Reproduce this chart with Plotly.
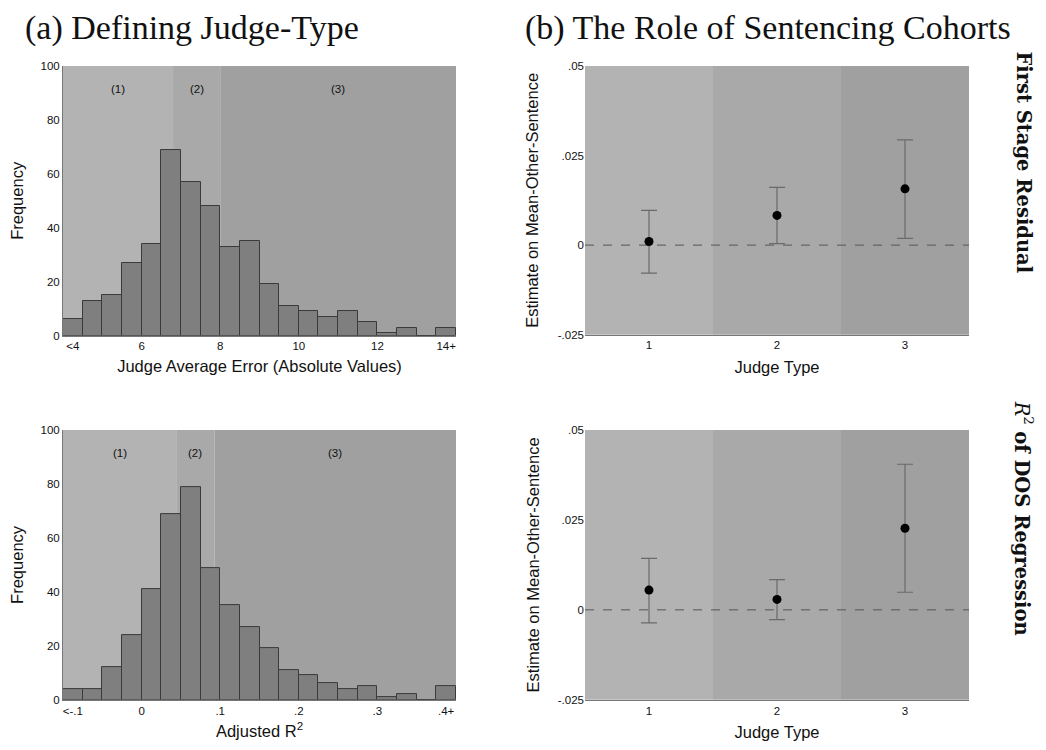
import numpy as np
import plotly.graph_objects as go

# ---- histogram data: judge average error (bins of 0.5 starting at 4) ----
err_bin_start = 4.0
err_bin_width = 0.5
err_counts = [6, 13, 15, 27, 34, 69, 57, 48, 33, 35, 19, 11, 9, 7, 9, 5, 1, 3, 0, 3]
err_tickvals = [4.25, 6, 8, 10, 12, 13.75]
err_ticktext = ["<4", "6", "8", "10", "12", "14+"]
err_cuts = [6.8, 8.0]          # judge-type boundaries

# ---- histogram data: adjusted R^2 (bins of 0.025 starting at -0.1) ----
r2_bin_start = -0.1
r2_bin_width = 0.025
r2_counts = [4, 4, 12, 24, 41, 69, 79, 49, 35, 27, 19, 11, 9, 6, 4, 5, 1, 2, 0, 5]
r2_tickvals = [-0.0875, 0, 0.1, 0.2, 0.3, 0.3875]
r2_ticktext = ["<-.1", "0", ".1", ".2", ".3", ".4+"]
r2_cuts = [0.044, 0.093]

# ---- coefficient estimates by judge type ----
judge_types = [1, 2, 3]
fs_est = [0.0010, 0.0083, 0.0157]
fs_hi = [0.0097, 0.0161, 0.0294]
fs_lo = [-0.0078, 0.0004, 0.0019]
r2_est = [0.0055, 0.0029, 0.0227]
r2_hi = [0.0143, 0.0084, 0.0405]
r2_lo = [-0.0036, -0.0027, 0.0049]

W, H = 1046, 750
REGION_COLORS = ["#b3b3b3", "#a9a9a9", "#a0a0a0"]
BAR_FILL = "#7f7f7f"
BAR_LINE = "#3a3a3a"
SANS = "Liberation Sans, Arial, sans-serif"
SERIF = "Liberation Serif, serif"
TICK_FONT = dict(family=SANS, size=11.5, color="#111")
TITLE_FONT = dict(family=SANS, size=16.5, color="#111")


def px_dom_x(a, b):
    return [a / W, b / W]


def px_dom_y(top, bottom):
    return [1 - bottom / H, 1 - top / H]


fig = go.Figure()
shapes = []
annotations = []


def add_hist(idx, counts, start, width, cuts, tickvals, ticktext, xtitle, xdom, ydom, lab_y):
    counts = np.array(counts)
    n = len(counts)
    edges = start + width * np.arange(n + 1)
    centers = (edges[:-1] + edges[1:]) / 2
    xa = "x" if idx == 1 else f"x{idx}"
    ya = "y" if idx == 1 else f"y{idx}"
    lo, hi = edges[0], edges[-1]
    fig.add_trace(go.Bar(
        x=centers, y=counts, width=width, xaxis=xa, yaxis=ya,
        marker=dict(color=BAR_FILL, line=dict(color=BAR_LINE, width=1)),
        showlegend=False,
    ))
    bounds = [lo] + list(cuts) + [hi]
    for k in range(3):
        shapes.append(dict(type="rect", xref=xa, yref=f"{ya} domain",
                           x0=bounds[k], x1=bounds[k + 1], y0=0, y1=1,
                           fillcolor=REGION_COLORS[k], line=dict(width=0), layer="below"))
        annotations.append(dict(x=(bounds[k] + bounds[k + 1]) / 2, y=lab_y, xref=xa, yref=ya,
                                text=f"({k + 1})", showarrow=False,
                                xanchor="center", yanchor="middle",
                                font=dict(family=SANS, size=11.5, color="#111")))
    key = "" if idx == 1 else str(idx)
    fig.update_layout(**{
        f"xaxis{key}": dict(domain=xdom, range=[lo, hi], anchor=ya, tickvals=tickvals,
                            ticktext=ticktext, showgrid=False, zeroline=False, showline=True,
                            linecolor="#777", linewidth=1, ticks="", tickfont=TICK_FONT,
                            title=dict(text=xtitle, font=TITLE_FONT, standoff=9)),
        f"yaxis{key}": dict(domain=ydom, range=[0, 100], anchor=xa, tickvals=[0, 20, 40, 60, 80, 100],
                            showgrid=False, zeroline=False, showline=True, linecolor="#777",
                            linewidth=1, ticks="", tickfont=TICK_FONT,
                            title=dict(text="Frequency", font=TITLE_FONT, standoff=12)),
    })


def add_coef(idx, est, hi, lo, xdom, ydom):
    xa = f"x{idx}"
    ya = f"y{idx}"
    est = np.array(est)
    up = np.array(hi) - est
    dn = est - np.array(lo)
    for k in range(3):
        shapes.append(dict(type="rect", xref=xa, yref=f"{ya} domain",
                           x0=judge_types[k] - 0.5, x1=judge_types[k] + 0.5, y0=0, y1=1,
                           fillcolor=REGION_COLORS[k], line=dict(width=0), layer="below"))
    shapes.append(dict(type="line", xref=f"{xa} domain", yref=ya, x0=0, x1=1, y0=0, y1=0,
                       line=dict(color="#555", width=1, dash="dash"), layer="below"))
    fig.add_trace(go.Scatter(
        x=judge_types, y=est, xaxis=xa, yaxis=ya, mode="markers",
        marker=dict(color="black", size=9),
        error_y=dict(type="data", symmetric=False, array=up, arrayminus=dn,
                     color="#6a6a6a", thickness=1.2, width=8),
        showlegend=False,
    ))
    fig.update_layout(**{
        f"xaxis{idx}": dict(domain=xdom, range=[0.5, 3.5], anchor=ya, tickvals=judge_types,
                            showgrid=False, zeroline=False, showline=True, linecolor="#777",
                            linewidth=1, ticks="", tickfont=TICK_FONT,
                            title=dict(text="Judge Type", font=TITLE_FONT, standoff=10)),
        f"yaxis{idx}": dict(domain=ydom, range=[-0.025, 0.05], anchor=xa,
                            tickvals=[-0.025, 0, 0.025, 0.05],
                            ticktext=["-.025", "0", ".025", ".05"],
                            showgrid=False, zeroline=False, showline=False, ticks="",
                            tickfont=TICK_FONT,
                            title=dict(text="Estimate on Mean-Other-Sentence", font=TITLE_FONT,
                                       standoff=14)),
    })


add_hist(1, err_counts, err_bin_start, err_bin_width, err_cuts, err_tickvals, err_ticktext,
         "Judge Average Error (Absolute Values)", px_dom_x(63, 456), px_dom_y(61, 335), 91.5)
add_hist(2, r2_counts, r2_bin_start, r2_bin_width, r2_cuts, r2_tickvals, r2_ticktext,
         "Adjusted R<sup>2</sup>", px_dom_x(63, 456), px_dom_y(431, 705), 91.5)
add_coef(3, fs_est, fs_hi, fs_lo, px_dom_x(585, 969), px_dom_y(61, 334))
add_coef(4, r2_est, r2_hi, r2_lo, px_dom_x(585, 969), px_dom_y(431, 705))

# Column titles
annotations.append(dict(x=192 / W, y=1 - 22 / H, xref="paper", yref="paper",
                        xanchor="center", yanchor="middle",
                        text="(a) Defining Judge-Type", showarrow=False,
                        font=dict(family=SERIF, size=34, color="#111")))
annotations.append(dict(x=768 / W, y=1 - 22 / H, xref="paper", yref="paper",
                        xanchor="center", yanchor="middle",
                        text="(b) The Role of Sentencing Cohorts", showarrow=False,
                        font=dict(family=SERIF, size=34, color="#111")))
# Row labels
annotations.append(dict(x=1024 / W, y=1 - 159 / H, xref="paper", yref="paper",
                        xanchor="center", yanchor="middle",
                        text="<b>First Stage Residual</b>", showarrow=False, textangle=90,
                        font=dict(family="DejaVu Serif, serif", size=19.5, color="#111")))
annotations.append(dict(x=1024 / W, y=1 - 520 / H, xref="paper", yref="paper",
                        xanchor="center", yanchor="middle",
                        text="<i>R</i><sup>2</sup> <b>of DOS Regression</b>", showarrow=False,
                        textangle=90, font=dict(family="DejaVu Serif, serif", size=19.5, color="#111")))

fig.update_layout(
    width=W, height=H, margin=dict(l=0, r=0, t=0, b=0),
    paper_bgcolor="white", plot_bgcolor="rgba(0,0,0,0)",
    shapes=shapes, annotations=annotations, bargap=0, showlegend=False,
)

fig.write_html("out.html")
